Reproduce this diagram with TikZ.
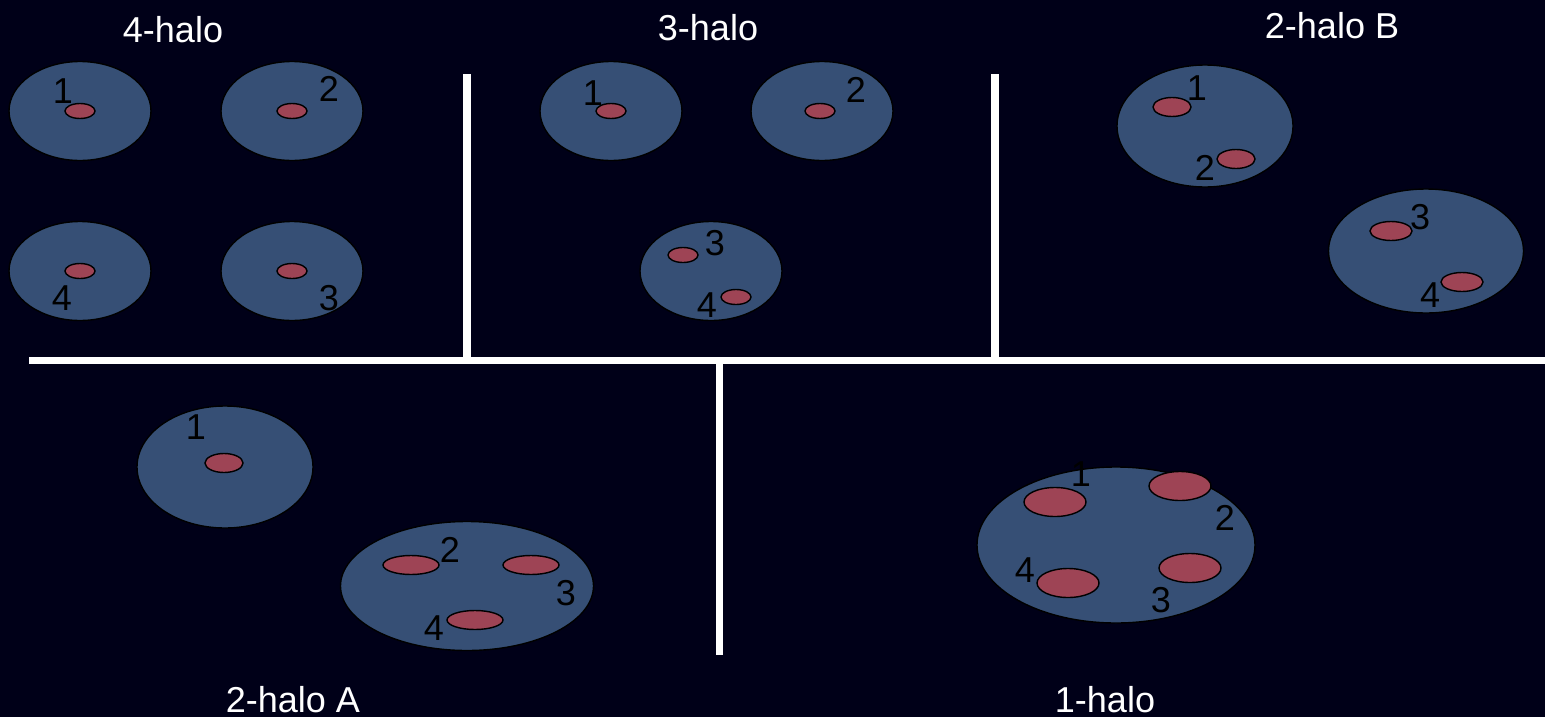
\documentclass[tikz,border=0pt]{standalone}
\usepackage{fontspec}
\setmainfont{Liberation Sans}
\usetikzlibrary{shapes.geometric}
\definecolor{bgc}{HTML}{000018}
\definecolor{haloc}{HTML}{364F75}
\definecolor{subc}{HTML}{9E4455}
\tikzset{
  sz/.style 2 args={minimum width=#1*0.02cm, minimum height=#2*0.02cm},
  halo/.style={ellipse, draw=black, line width=0.8pt, fill=haloc, inner sep=0pt},
  sub/.style={ellipse, draw=black, line width=0.8pt, fill=subc, inner sep=0pt},
  num/.style={text=black, font=\fontsize{20.5}{24}\selectfont, inner sep=0pt},
  ttl/.style={text=white, font=\fontsize{20.5}{24}\selectfont, inner sep=0pt},
  sep/.style={draw=white, line width=4pt}
}
\begin{document}
\begin{tikzpicture}[x=0.02cm, y=-0.02cm]
\fill[bgc] (0,0) rectangle (1545,717);
\useasboundingbox (0,0) rectangle (1545,717);

% separators
\coordinate (v1t) at (467,74); \coordinate (v1b) at (467,357);
\coordinate (v2t) at (995,74); \coordinate (v2b) at (995,357);
\coordinate (hl) at (29,360.5); \coordinate (hr) at (1545,360.5);
\coordinate (v3t) at (719.5,364); \coordinate (v3b) at (719.5,655);
\draw[sep] (v1t) -- (v1b);
\draw[sep] (v2t) -- (v2b);
\draw[sep] (hl) -- (hr);
\draw[sep] (v3t) -- (v3b);

% titles
\node[ttl] (t4) at (173,30) {4-halo};
\node[ttl] (t3) at (708,28) {3-halo};
\node[ttl] (t2b) at (1332,26) {2-halo B};
\node[ttl] (t2a) at (293,700) {2-halo A};
\node[ttl] (t1) at (1105,700) {1-halo};

% 4-halo
\node[halo, sz={142}{99}] (a1) at (80,111) {};
\node[halo, sz={142}{99}] (a2) at (292,111) {};
\node[halo, sz={142}{99}] (a4) at (80,271) {};
\node[halo, sz={142}{99}] (a3) at (292,271) {};
\node[sub, sz={30}{15}] (as1) at (80,111) {};
\node[sub, sz={30}{15}] (as2) at (292,111) {};
\node[sub, sz={30}{15}] (as4) at (80,271) {};
\node[sub, sz={30}{15}] (as3) at (292,271) {};
\node[num] (al1) at (63,91) {1};
\node[num] (al2) at (329,89) {2};
\node[num] (al4) at (62,298) {4};
\node[num] (al3) at (329,298) {3};

% 3-halo
\node[halo, sz={142}{99}] (b1) at (611,111) {};
\node[halo, sz={142}{99}] (b2) at (822,111) {};
\node[halo, sz={142}{99}] (b3) at (711,271) {};
\node[sub, sz={30}{15}] (bs1) at (611,111) {};
\node[sub, sz={30}{15}] (bs2) at (820,111) {};
\node[sub, sz={30}{15}] (bs3) at (683,255) {};
\node[sub, sz={30}{15}] (bs4) at (736,297) {};
\node[num] (bl1) at (593,93) {1};
\node[num] (bl2) at (856,90) {2};
\node[num] (bl3) at (715,243) {3};
\node[num] (bl4) at (707,305) {4};

% 2-halo B
\node[halo, sz={176}{122}] (c1) at (1205,126) {};
\node[halo, sz={195}{124}] (c2) at (1426,251) {};
\node[sub, sz={38}{19}] (cs1) at (1172,107) {};
\node[sub, sz={38}{19}] (cs2) at (1236,159) {};
\node[sub, sz={42}{19}] (cs3) at (1391,231) {};
\node[sub, sz={42}{19}] (cs4) at (1462,282) {};
\node[num] (cl1) at (1197,88) {1};
\node[num] (cl2) at (1205,168) {2};
\node[num] (cl3) at (1420,217) {3};
\node[num] (cl4) at (1430,295) {4};

% 2-halo A
\node[halo, sz={176}{122}] (d1) at (225,467) {};
\node[halo, sz={253}{129}] (d2) at (467,586) {};
\node[sub, sz={38}{19}] (ds1) at (224,463) {};
\node[sub, sz={56}{19}] (ds2) at (411,565) {};
\node[sub, sz={56}{19}] (ds3) at (531,565) {};
\node[sub, sz={56}{19}] (ds4) at (475,620) {};
\node[num] (dl1) at (196,427) {1};
\node[num] (dl2) at (450,550) {2};
\node[num] (dl3) at (566,593) {3};
\node[num] (dl4) at (434,628) {4};

% 1-halo
\node[halo, sz={278}{156}] (e1) at (1116,545) {};
\node[sub, sz={62}{29}] (es1) at (1055,502) {};
\node[sub, sz={62}{29}] (es2) at (1180,486) {};
\node[sub, sz={62}{29}] (es3) at (1190,568) {};
\node[sub, sz={62}{29}] (es4) at (1068,583) {};
\node[num] (el1) at (1081,474) {1};
\node[num] (el2) at (1225,518) {2};
\node[num] (el3) at (1161,600) {3};
\node[num] (el4) at (1025,570) {4};
\end{tikzpicture}
\end{document}
